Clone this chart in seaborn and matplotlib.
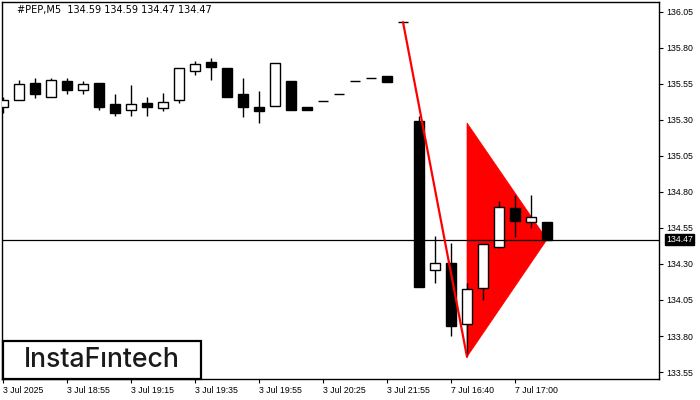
import numpy as np
import pandas as pd
import matplotlib
matplotlib.use("Agg")
import matplotlib.pyplot as plt
from matplotlib.patches import Polygon, Rectangle
import seaborn as sns

# Style
sns.set_theme(style="white")
plt.rcParams["font.family"] = ["Liberation Sans", "DejaVu Sans"]

# ── Data ──────────────────────────────────────────────────────────────────────
opens = [135.39, 135.44, 135.555, 135.46, 135.57, 135.51, 135.56, 135.41, 135.37, 135.42,
         135.385, 135.44, 135.64, 135.70, 135.66, 135.48, 135.39, 135.395, 135.57, 135.39,
         135.435, 135.48, 135.57, 135.59, 135.605, 135.98, 135.29, 134.255, 134.305, 133.88,
         134.13, 134.42, 134.69, 134.595, 134.59]
highs = [135.46, 135.58, 135.59, 135.59, 135.59, 135.57, 135.56, 135.48, 135.54, 135.46,
         135.49, 135.66, 135.71, 135.73, 135.66, 135.59, 135.50, 135.695, 135.57, 135.39,
         135.435, 135.48, 135.57, 135.59, 135.605, 135.98, 135.33, 134.495, 134.445, 134.17,
         134.44, 134.74, 134.78, 134.78, 134.59]
lows = [135.35, 135.44, 135.455, 135.46, 135.48, 135.48, 135.37, 135.33, 135.33, 135.33,
        135.365, 135.42, 135.615, 135.575, 135.46, 135.32, 135.28, 135.395, 135.37, 135.37,
        135.435, 135.48, 135.57, 135.59, 135.565, 135.98, 134.14, 134.17, 133.80, 133.66,
        134.05, 134.41, 134.49, 134.55, 134.47]
closes = [135.44, 135.55, 135.48, 135.58, 135.51, 135.55, 135.39, 135.35, 135.41, 135.39,
          135.425, 135.66, 135.69, 135.665, 135.46, 135.39, 135.365, 135.695, 135.37, 135.37,
          135.435, 135.48, 135.57, 135.59, 135.565, 135.98, 134.14, 134.31, 133.87, 134.125,
          134.44, 134.695, 134.60, 134.625, 134.47]

time_labels = ["3 Jul 2025", "3 Jul 18:55", "3 Jul 19:15", "3 Jul 19:35", "3 Jul 19:55",
               "3 Jul 20:25", "3 Jul 21:55", "7 Jul 16:40", "7 Jul 17:00"]
label_bars = [0, 4, 8, 12, 16, 20, 24, 28, 32]

price_ticks = [133.55, 133.80, 134.05, 134.30, 134.55, 134.80, 135.05, 135.30, 135.55, 135.80, 136.05]
last_price = 134.47

# pennant: pole start/end and flag triangle
pole_bars = [25, 29]
pole_prices = [135.98, 133.655]
flag_bars = [29, 29, 34]
flag_prices = [135.28, 133.655, 134.47]

df = pd.DataFrame({"open": opens, "high": highs, "low": lows, "close": closes})
df["bar"] = np.arange(len(df))

# ── Figure ────────────────────────────────────────────────────────────────────
W, H = 700, 400
fig = plt.figure(figsize=(7, 4), dpi=100)
ax = fig.add_axes([2 / W, 1 - 379 / H, 657 / W, 377 / H])
ax.set_xlim(-1 / 16, 656 / 16)
ax.set_ylim(133.5014, 136.1194)

# flag triangle (behind candles)
ax.add_patch(Polygon(list(zip(flag_bars, flag_prices)), closed=True,
                     facecolor="#ff0000", edgecolor="#ff0000", lw=0.5, zorder=1))

# candles
bw = 0.62
up = df[df["close"] > df["open"]]
dn = df[df["close"] < df["open"]]
dj = df[df["close"] == df["open"]]
ax.vlines(df["bar"], df["low"], df["high"], color="black", lw=1, zorder=2)
ax.bar(up["bar"], up["close"] - up["open"], bottom=up["open"], width=bw,
       color="white", edgecolor="black", lw=1, zorder=3)
ax.bar(dn["bar"], dn["open"] - dn["close"], bottom=dn["close"], width=bw,
       color="black", edgecolor="black", lw=1, zorder=3)
ax.hlines(dj["close"], dj["bar"] - bw / 2, dj["bar"] + bw / 2, color="black", lw=1, zorder=3)

# pole line
sns.lineplot(x=pole_bars, y=pole_prices, ax=ax, color="#ff0000", lw=1.6, zorder=5)

# current price line
ax.axhline(last_price, color="black", lw=0.9, zorder=4)

# axes styling
for s in ax.spines.values():
    s.set_color("black")
    s.set_linewidth(1)
ax.yaxis.tick_right()
ax.set_yticks(price_ticks)
ax.set_yticklabels([f"{p:.2f}" for p in price_ticks])
ax.set_xticks(label_bars)
ax.set_xticklabels(time_labels, ha="left")
ax.tick_params(axis="y", direction="out", length=3, width=0.8, pad=2,
               labelsize=6.3, colors="black", right=True, left=False)
ax.tick_params(axis="x", direction="out", length=3, width=0.8, pad=2,
               labelsize=6.3, colors="black", bottom=True)
ax.grid(False)

# last price tag
ax.annotate(f"{last_price:.2f}", xy=(1.0, last_price), xycoords=("axes fraction", "data"),
            xytext=(5, 0), textcoords="offset points", va="center", ha="left",
            fontsize=6.3, color="white",
            bbox=dict(boxstyle="square,pad=0.15", fc="black", ec="black"),
            annotation_clip=False)

# header
fig.text(17 / W, 1 - 10 / H, "#PEP,M5  134.59 134.59 134.47 134.47",
         fontsize=7.0, family=["DejaVu Sans"], color="black", va="center", ha="left")

# logo box
fig.add_artist(Rectangle((3 / W, 1 - 379 / H), 198 / W, 38 / H, transform=fig.transFigure,
                         facecolor="white", edgecolor="black", lw=1.6, zorder=10))
fig.text(102 / W, 1 - 360 / H, "InstaF\u0131ntech", fontsize=19.2, family=["Inter", "DejaVu Sans"],
         fontweight="medium", color="#1a1a1a", va="center", ha="center", zorder=11)

fig.savefig("out.png", dpi=100)
plt.close(fig)
